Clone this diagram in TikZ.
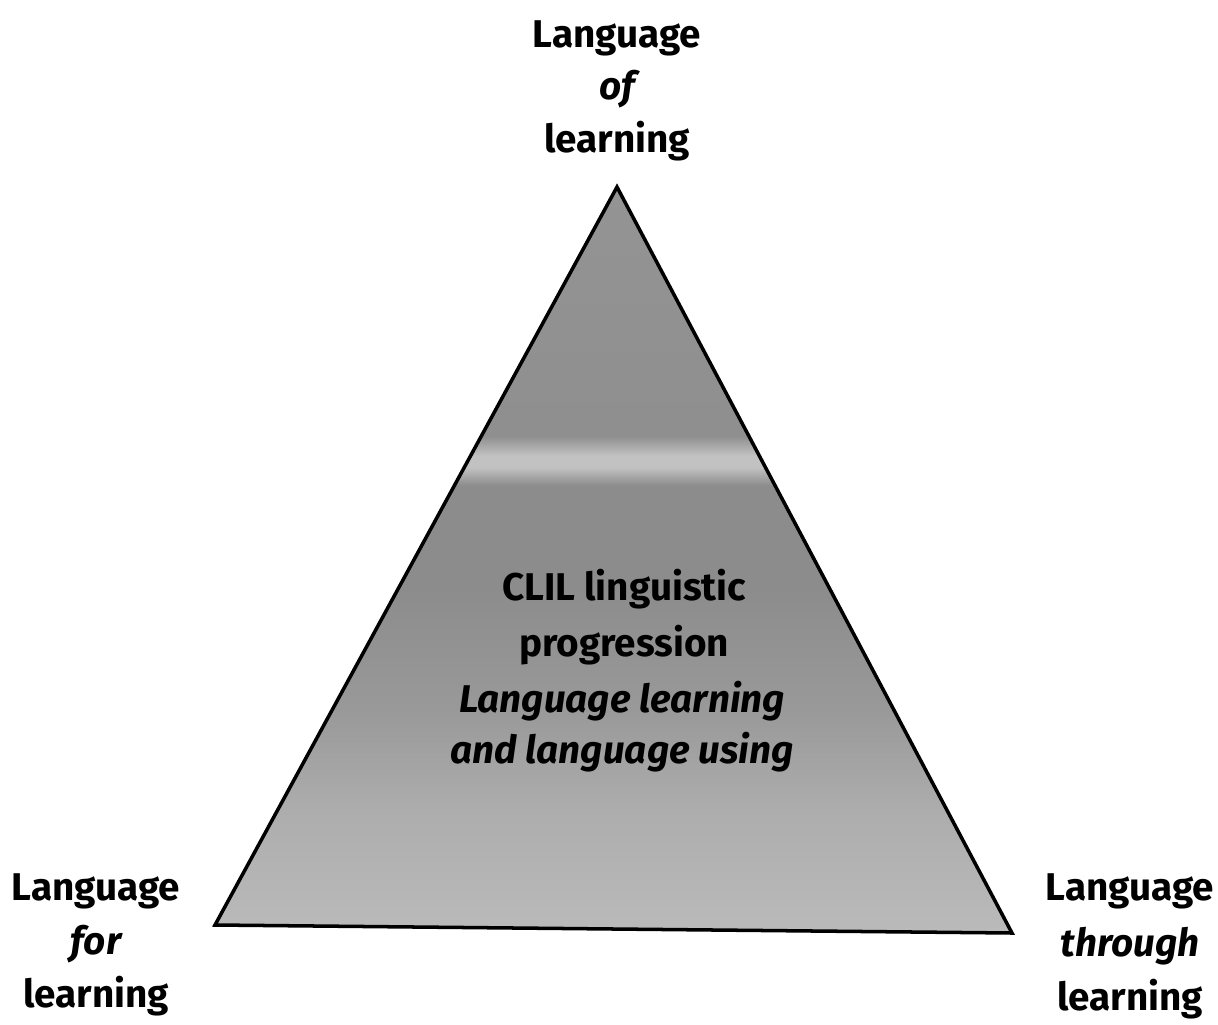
\documentclass[tikz,border=0pt]{standalone}
\usepackage{fontspec}
\setmainfont{Fira Sans}
\begin{document}
% vertical grey ramp for the pyramid: visible part runs from 25bp (base) to 75bp (apex)
\pgfdeclareverticalshading{pyramidfill}{100bp}{%
  color(0bp)=(black!27);
  color(25bp)=(black!27);
  color(33bp)=(black!32);
  color(40bp)=(black!40);
  color(48bp)=(black!45);
  color(55bp)=(black!45);
  color(56.2bp)=(black!24);
  color(57bp)=(black!24);
  color(58.3bp)=(black!44);
  color(75bp)=(black!42);
  color(100bp)=(black!42)}
\begin{tikzpicture}[x=0.02cm,y=-0.02cm,
  lbl/.style={inner sep=0pt,anchor=base,font=\fontsize{22}{30}\selectfont\bfseries},
  lblit/.style={lbl,font=\fontsize{22}{30}\selectfont\bfseries\itshape},
  mid/.style={inner sep=0pt,anchor=base,font=\fontsize{22}{30}\selectfont\bfseries},
  midit/.style={mid,font=\fontsize{22}{30}\selectfont\bfseries\itshape},
  edge/.style={line width=2pt,line join=miter}]
\useasboundingbox (0,0) rectangle (1218,1025);

% pyramid corners
\coordinate (apex) at (617,187);
\coordinate (bl) at (215,925);
\coordinate (br) at (1012,933);

\shade[shading=pyramidfill] (apex) -- (bl) -- (br) -- cycle;
\draw[edge] (apex) -- (bl) -- (br) -- cycle;

% corner labels
\node[lbl]   (ofa) at (617,47)  {Language};
\node[lblit] (ofb) at (617,99)  {of};
\node[lbl]   (ofc) at (617,152) {learning};

\node[lbl]   (fora) at (96,900)  {Language};
\node[lblit] (forb) at (96,954)  {for};
\node[lbl]   (forc) at (96,1007) {learning};

\node[lbl]   (thra) at (1130,900)  {Language};
\node[lblit] (thrb) at (1130,956)  {through};
\node[lbl]   (thrc) at (1130,1010) {learning};

% centre caption
\node[mid]   (capa) at (624,600) {CLIL linguistic};
\node[mid]   (capb) at (624,656) {progression};
\node[midit] (capc) at (622,712) {Language learning};
\node[midit] (capd) at (622,763) {and language using};
\end{tikzpicture}
\end{document}
